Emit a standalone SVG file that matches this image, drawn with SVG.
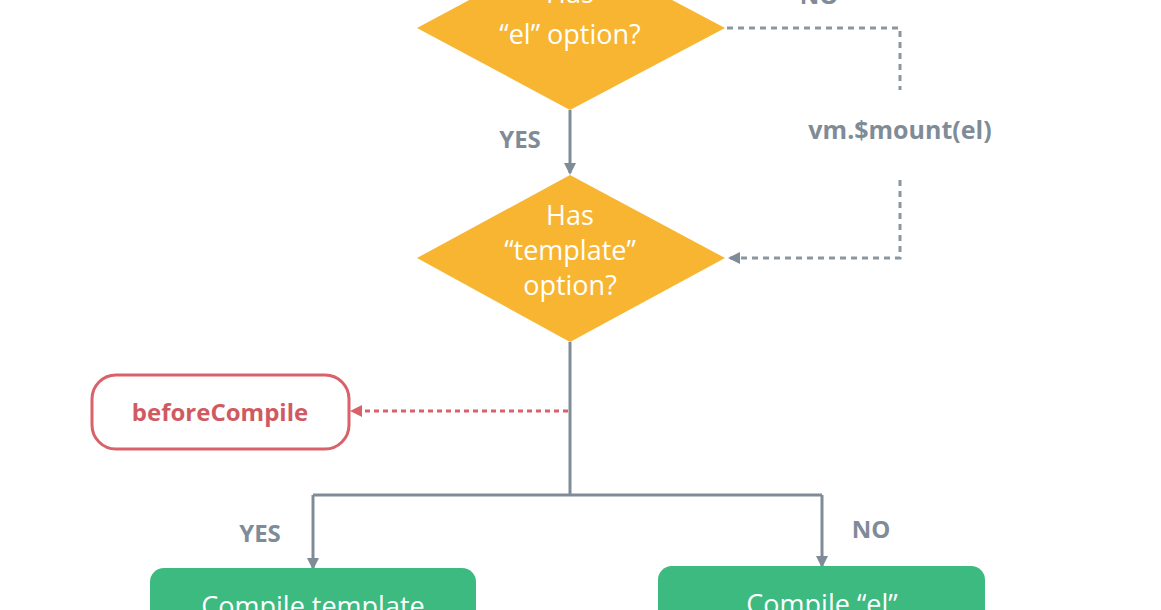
<svg xmlns="http://www.w3.org/2000/svg" width="1161" height="610" viewBox="0 0 1161 610">
<style>
text{font-family:"Open Sans","Liberation Sans",sans-serif;}
.dt{fill:#fff;font-size:27px;font-weight:500;text-anchor:middle;}
.lb{fill:#7f8c98;font-size:24px;font-weight:bold;text-anchor:middle;}
.ln{stroke:#7f8c98;stroke-width:3;fill:none;}
.ds{stroke:#8c96a0;stroke-width:3;fill:none;stroke-dasharray:6 5;}
.rd{stroke:#d9626a;stroke-width:3;fill:none;stroke-dasharray:5 4;}
.gb{fill:#3dba7f;}
</style>
<defs>
<marker id="ag" markerWidth="12" markerHeight="12" refX="10" refY="6" orient="auto" markerUnits="userSpaceOnUse"><path d="M0,0 L12,6 L0,12 z" fill="#7f8c98"/></marker>
<marker id="ar" markerWidth="12" markerHeight="12" refX="10" refY="6" orient="auto" markerUnits="userSpaceOnUse"><path d="M0,0 L12,6 L0,12 z" fill="#d9626a"/></marker>
</defs>
<rect width="1161" height="610" fill="#fff"/>
<g id="connectors">
<path class="ln" d="M570,110 V173" marker-end="url(#ag)"/>
<path class="ds" d="M727,28 H900 V90"/>
<path class="ds" d="M900,180 V258 H730" marker-end="url(#ag)"/>
<path class="ln" d="M570,342 V495"/>
<path class="rd" d="M568,411 H352" marker-end="url(#ar)"/>
<path class="ln" d="M313,495 H822"/>
<path class="ln" d="M313,495 V568" marker-end="url(#ag)"/>
<path class="ln" d="M822,495 V566" marker-end="url(#ag)"/>
<text class="lb" x="520" y="148">YES</text>
<text class="lb" x="819" y="4">NO</text>
<text class="lb" x="900" y="139" style="font-size:25px">vm.$mount(el)</text>
<text class="lb" x="260" y="542">YES</text>
<text class="lb" x="871" y="538">NO</text>
</g>
<g id="has-el">
<polygon points="570,-54 725,28 570,110 417,28" fill="#f8b532"/>
<text class="dt" x="570" y="3">Has</text>
<text class="dt" x="570" y="44">“el” option?</text>
</g>
<g id="has-template">
<polygon points="570,175 725,258 570,342 417,258" fill="#f8b532"/>
<text class="dt" x="570" y="225">Has</text>
<text class="dt" x="570" y="260">“template”</text>
<text class="dt" x="570" y="295">option?</text>
</g>
<g id="before-compile">
<rect x="92" y="375" width="257" height="74" rx="24" fill="#fff" stroke="#d9626a" stroke-width="3"/>
<text x="220" y="421" text-anchor="middle" font-size="24" font-weight="bold" fill="#d05a62">beforeCompile</text>
</g>
<g id="compile-template">
<rect class="gb" x="150" y="568" width="326" height="80" rx="14"/>
<text class="dt" x="313" y="616">Compile template</text>
</g>
<g id="compile-el">
<rect class="gb" x="658" y="566" width="327" height="80" rx="14"/>
<text class="dt" x="822" y="614">Compile “el”</text>
</g>
</svg>
